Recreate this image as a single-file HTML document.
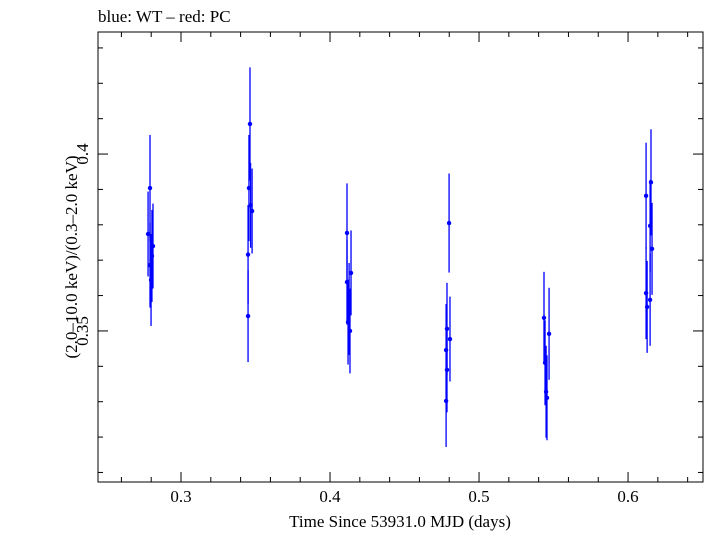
<!DOCTYPE html>
<html><head><meta charset="utf-8"><style>
body{margin:0;background:#fff}
svg text{font-family:"Liberation Serif",serif;fill:#000}
</style></head><body>
<svg id="chart" width="705" height="532" xmlns="http://www.w3.org/2000/svg">
<text x="98" y="22" font-size="17">blue: WT – red: PC</text>
<rect x="98" y="32" width="605" height="450" fill="none" stroke="#000" stroke-width="1"/>
<g id="axes"></g>
<g id="marks"></g>
<text x="400" y="527" font-size="17" text-anchor="middle">Time Since 53931.0 MJD (days)</text>
<text transform="translate(77,257) rotate(-90)" font-size="17" text-anchor="middle">(2.0–10.0 keV)/(0.3–2.0 keV)</text>
</svg>
<script>
const times=[0.2792,0.2779,0.2812,0.2805,0.2792,0.2799,
0.3463,0.3456,0.3477,0.3467,0.3450,0.3450,
0.4114,0.4141,0.4114,0.4128,0.4121,0.4134,
0.4799,0.4785,0.4805,0.4779,0.4785,0.4779,
0.5436,0.5470,0.5443,0.5450,0.5456,
0.6154,0.6121,0.6148,0.6161,0.6121,0.6148,0.6128];
const ratios=[0.3904,0.3774,0.3740,0.3712,0.3686,0.3644,
0.4085,0.3904,0.3839,0.3855,0.3716,0.3542,
0.3777,0.3664,0.3638,0.3562,0.3525,0.3500,
0.3805,0.3506,0.3477,0.3446,0.3390,0.3302,
0.3537,0.3492,0.3410,0.3328,0.3311,
0.3920,0.3882,0.3797,0.3732,0.3607,0.3588,0.3568];
const errors=[0.015,0.012,0.012,0.013,0.012,0.013,
0.016,0.015,0.012,0.012,0.014,0.013,
0.014,0.012,0.012,0.013,0.012,0.012,
0.014,0.013,0.012,0.013,0.012,0.013,
0.013,0.013,0.012,0.013,0.012,
0.015,0.015,0.013,0.013,0.013,0.013,0.013];
const xTicks=[0.3,0.4,0.5,0.6];
const xTickLabels=["0.3","0.4","0.5","0.6"];
const yTicks=[0.35,0.4];
const yTickLabels=["0.35","0.4"];
const X0=98,X1=703,Y0=482,Y1=32,xmin=0.2443,xmax=0.6503,ymin=0.3073,ymax=0.4345;
function sx(t){return X0+(t-xmin)/(xmax-xmin)*(X1-X0);}
function sy(v){return Y0-(v-ymin)/(ymax-ymin)*(Y0-Y1);}
const NS="http://www.w3.org/2000/svg";
const axes=document.getElementById('axes'),marks=document.getElementById('marks');
function line(p,x1,y1,x2,y2,c,w){const l=document.createElementNS(NS,'line');l.setAttribute('x1',x1);l.setAttribute('y1',y1);l.setAttribute('x2',x2);l.setAttribute('y2',y2);l.setAttribute('stroke',c);l.setAttribute('stroke-width',w);p.appendChild(l);return l;}
for(let t=0.26;t<0.65;t+=0.02){const x=sx(t);const major=xTicks.some(m=>Math.abs(m-t)<1e-6);const len=major?10:5;
const a=line(axes,x,Y0,x,Y0-len,'#000',1);


const b=line(axes,x,Y1,x,Y1+len,'#000',1);

}
for(let v=0.31;v<0.435;v+=0.01){const y=sy(v);const major=yTicks.some(m=>Math.abs(m-v)<1e-6);const len=major?10:5;
const a=line(axes,X0,y,X0+len,y,'#000',1);


const b=line(axes,X1,y,X1-len,y,'#000',1);

}
xTicks.forEach((t,i)=>{const tx=document.createElementNS(NS,'text');tx.setAttribute('x',sx(t));tx.setAttribute('y',502);tx.setAttribute('font-size','17');tx.setAttribute('text-anchor','middle');tx.textContent=xTickLabels[i];


axes.appendChild(tx);});
yTicks.forEach((v,i)=>{const tx=document.createElementNS(NS,'text');tx.setAttribute('transform','translate(88,'+sy(v)+') rotate(-90)');tx.setAttribute('font-size','17');tx.setAttribute('text-anchor','middle');tx.textContent=yTickLabels[i];


axes.appendChild(tx);});
times.forEach((t,i)=>{const x=sx(t),y=sy(ratios[i]);
const e=line(marks,x,sy(ratios[i]+errors[i]),x,sy(ratios[i]-errors[i]),'#0000ff',1.3);


const c=document.createElementNS(NS,'circle');c.setAttribute('cx',x);c.setAttribute('cy',y);c.setAttribute('r',2.2);c.setAttribute('fill','#0000ff');


marks.appendChild(c);});
</script>
</body></html>
